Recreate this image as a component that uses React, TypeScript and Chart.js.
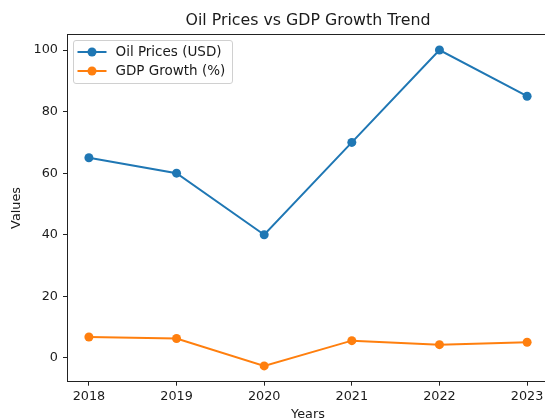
import React, { useEffect, useRef } from "react";
import { Chart, registerables } from "chart.js";

Chart.register(...registerables);

const years = [2018, 2019, 2020, 2021, 2022, 2023];
const oilPrices = [65, 60, 40, 70, 100, 85];
const gdpGrowth = [6.8, 6.3, -2.6, 5.6, 4.3, 5.1];
const seriesNames = ["Oil Prices (USD)", "GDP Growth (%)"];
const seriesColors = ["#1f77b4", "#ff7f0e"];
const chartTitle = "Oil Prices vs GDP Growth Trend";
const xTitle = "Years";
const yTitle = "Values";

const FONT = "'DejaVu Sans', sans-serif";
const TEXT = "#1a1a1a";

const framePlugin = {
  id: "frame",
  afterDatasetsDraw(chart: any) {
    const { ctx, chartArea } = chart;
    ctx.save();
    ctx.strokeStyle = "#222";
    ctx.lineWidth = 1;
    ctx.strokeRect(
      Math.round(chartArea.left) + 0.5,
      Math.round(chartArea.top) + 0.5,
      Math.round(chartArea.right - chartArea.left),
      Math.round(chartArea.bottom - chartArea.top)
    );
    ctx.restore();
  },
};

const legendPlugin = {
  id: "mplLegend",
  afterDraw(chart: any) {
    const { ctx, chartArea } = chart;
    const x0 = Math.round(chartArea.left) + 6.5;
    const y0 = Math.round(chartArea.top) + 6.5;
    const w = 159;
    const h = 43;
    ctx.save();
    ctx.beginPath();
    const r = 2.5;
    ctx.moveTo(x0 + r, y0);
    ctx.arcTo(x0 + w, y0, x0 + w, y0 + h, r);
    ctx.arcTo(x0 + w, y0 + h, x0, y0 + h, r);
    ctx.arcTo(x0, y0 + h, x0, y0, r);
    ctx.arcTo(x0, y0, x0 + w, y0, r);
    ctx.closePath();
    ctx.fillStyle = "rgba(255,255,255,0.8)";
    ctx.fill();
    ctx.strokeStyle = "#d0d0d0";
    ctx.lineWidth = 1;
    ctx.stroke();
    chart.data.datasets.forEach((ds: any, i: number) => {
      const cy = y0 + 11.5 + i * 19;
      ctx.strokeStyle = ds.borderColor;
      ctx.lineWidth = 2;
      ctx.beginPath();
      ctx.moveTo(x0 + 4, cy);
      ctx.lineTo(x0 + 33, cy);
      ctx.stroke();
      ctx.fillStyle = ds.backgroundColor;
      ctx.beginPath();
      ctx.arc(x0 + 18.5, cy, 4.5, 0, Math.PI * 2);
      ctx.fill();
      ctx.fillStyle = TEXT;
      ctx.font = `13.5px ${FONT}`;
      ctx.textBaseline = "middle";
      ctx.textAlign = "left";
      ctx.fillText(ds.label, x0 + 42, cy + 0.5);
    });
    ctx.restore();
  },
};

export default function App() {
  const ref = useRef<HTMLCanvasElement | null>(null);

  useEffect(() => {
    if (!ref.current) return;
    const chart = new Chart(ref.current, {
      type: "line",
      data: {
        datasets: [
          {
            label: seriesNames[0],
            data: years.map((y, i) => ({ x: y, y: oilPrices[i] })),
            borderColor: seriesColors[0],
            backgroundColor: seriesColors[0],
            borderWidth: 2,
            pointRadius: 4.5,
            pointHoverRadius: 4.5,
            pointBorderWidth: 0,
            tension: 0,
          },
          {
            label: seriesNames[1],
            data: years.map((y, i) => ({ x: y, y: gdpGrowth[i] })),
            borderColor: seriesColors[1],
            backgroundColor: seriesColors[1],
            borderWidth: 2,
            pointRadius: 4.5,
            pointHoverRadius: 4.5,
            pointBorderWidth: 0,
            tension: 0,
          },
        ],
      },
      options: {
        responsive: false,
        animation: false,
        layout: { padding: { left: 0, right: 67, top: 0, bottom: 0 } },
        plugins: {
          legend: { display: false },
          tooltip: { enabled: false },
          title: {
            display: true,
            fullSize: false,
            text: chartTitle,
            color: TEXT,
            font: { family: FONT, size: 15.8, weight: "normal" },
            padding: { top: 11, bottom: 4.3 },
          },
        },
        scales: {
          x: {
            type: "linear",
            min: 2017.75,
            max: 2023.25,
            afterFit(scale: any) {
              scale.height = 48.3;
            },
            ticks: {
              stepSize: 1,
              includeBounds: false,
              autoSkip: false,
              maxRotation: 0,
              color: TEXT,
              font: { family: FONT, size: 12.8 },
              padding: 3,
              callback: (v: any) => String(v),
            },
            grid: {
              display: true,
              drawOnChartArea: false,
              drawTicks: true,
              tickLength: 4,
              color: "#222",
            },
            border: { display: true, color: "#222", width: 1 },
            title: {
              display: true,
              text: xTitle,
              color: TEXT,
              font: { family: FONT, size: 12.8 },
              padding: { top: 0, bottom: 8 },
            },
          },
          y: {
            type: "linear",
            min: -7.73,
            max: 105.13,
            afterFit(scale: any) {
              scale.width = 67;
            },
            ticks: {
              stepSize: 20,
              includeBounds: false,
              color: TEXT,
              font: { family: FONT, size: 12.8 },
              padding: 5,
            },
            grid: {
              display: true,
              drawOnChartArea: false,
              drawTicks: true,
              tickLength: 4,
              color: "#222",
            },
            border: { display: true, color: "#222", width: 1 },
            title: {
              display: true,
              text: yTitle,
              color: TEXT,
              font: { family: FONT, size: 12.8 },
              padding: { top: 8.5, bottom: 0 },
            },
          },
        },
      },
      plugins: [framePlugin, legendPlugin],
    } as any);
    return () => chart.destroy();
  }, []);

  return (
    <div
      style={{
        position: "fixed",
        left: 0,
        top: 0,
        width: 545,
        height: 419,
        overflow: "hidden",
        background: "#fff",
      }}
    >
      <canvas ref={ref} width={616} height={430} style={{ width: 616, height: 430, display: "block" }} />
    </div>
  );
}
